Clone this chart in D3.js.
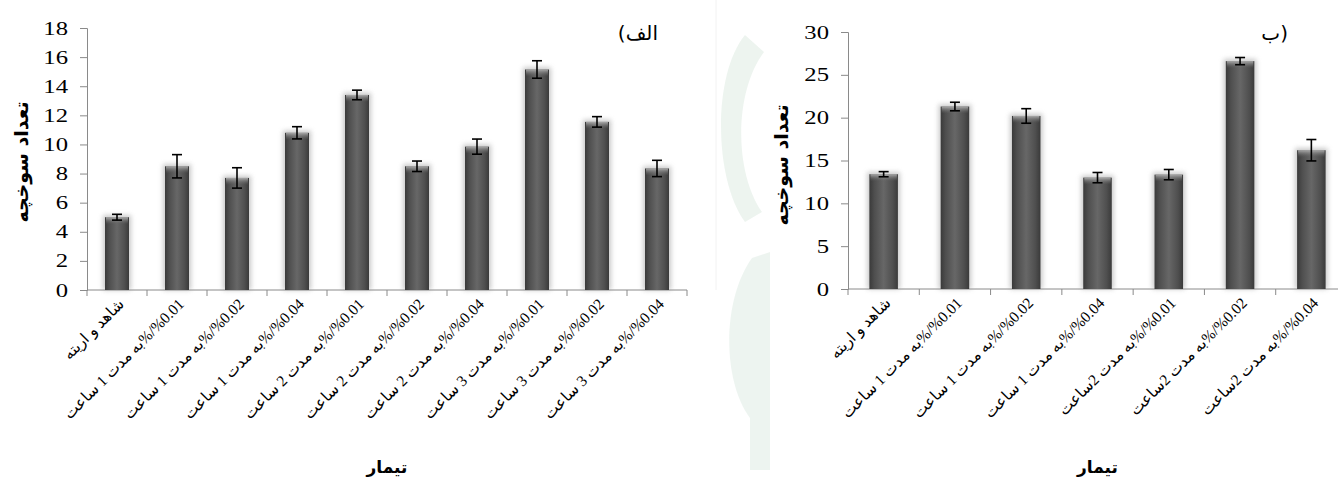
<!DOCTYPE html>
<html>
<head>
<meta charset="utf-8">
<script src="https://cdn.jsdelivr.net/npm/d3@7"></script>
<style>
body { margin: 0; background: #fff; }
svg { display: block; }
</style>
</head>
<body>
<svg width="1338" height="479"></svg>
<script>
// Data
let leftCats = [
    'شاهد و اریته',
    '%0.01/%به مدت 1 ساعت', '%0.02/%به مدت 1 ساعت', '%0.04/%به مدت 1 ساعت',
    '%0.01/%به مدت 2 ساعت', '%0.02/%به مدت 2 ساعت', '%0.04/%به مدت 2 ساعت',
    '%0.01/%به مدت 3 ساعت', '%0.02/%به مدت 3 ساعت', '%0.04/%به مدت 3 ساعت'
]
let leftValues = [5.0, 8.5, 7.7, 10.8, 13.4, 8.5, 9.85, 15.15, 11.55, 8.35]
let leftErrors = [0.2, 0.8, 0.7, 0.42, 0.33, 0.36, 0.52, 0.6, 0.36, 0.56]
let leftTicks = [0, 2, 4, 6, 8, 10, 12, 14, 16, 18]

let rightCats = [
    'شاهد و اریته',
    '%0.01/%به مدت 1 ساعت', '%0.02/%به مدت 1 ساعت', '%0.04/%به مدت 1 ساعت',
    '%0.01/%به مدت 2ساعت', '%0.02/%به مدت 2ساعت', '%0.04/%به مدت 2ساعت'
]
let rightValues = [13.4, 21.3, 20.2, 13.0, 13.35, 26.6, 16.2]
let rightErrors = [0.3, 0.5, 0.85, 0.6, 0.6, 0.42, 1.25]
let rightTicks = [0, 5, 10, 15, 20, 25, 30]

let yTitle = 'تعداد سوخچه'
let xTitle = 'تیمار'

let svg = d3.select('svg')
let defs = svg.append('defs')

// bar look: dark cylinder with soft glow
let grad = defs.append('linearGradient').attr('id', 'barGrad')
    .attr('x1', 0).attr('x2', 1).attr('y1', 0).attr('y2', 0)
grad.append('stop').attr('offset', '0%').attr('stop-color', '#3a3a3a')
grad.append('stop').attr('offset', '18%').attr('stop-color', '#4f4f4f')
grad.append('stop').attr('offset', '50%').attr('stop-color', '#676767')
grad.append('stop').attr('offset', '82%').attr('stop-color', '#4f4f4f')
grad.append('stop').attr('offset', '100%').attr('stop-color', '#3a3a3a')

let cap = defs.append('linearGradient').attr('id', 'capGrad')
    .attr('x1', 0).attr('x2', 0).attr('y1', 0).attr('y2', 1)
cap.append('stop').attr('offset', '0%').attr('stop-color', '#b5b5b5').attr('stop-opacity', 0.9)
cap.append('stop').attr('offset', '100%').attr('stop-color', '#6a6a6a').attr('stop-opacity', 0)

defs.append('filter').attr('id', 'glow')
    .attr('x', '-50%').attr('y', '-10%').attr('width', '200%').attr('height', '120%')
    .append('feGaussianBlur').attr('stdDeviation', 2.5)

// faint watermark in the middle
let wm = svg.append('g').attr('fill', '#e6f0e9').attr('opacity', 0.7)
wm.append('path').attr('d', 'M745,35 C712,75 714,180 745,222 L762,212 C734,172 734,92 764,52 Z')
wm.append('path').attr('d', 'M752,258 C722,300 722,380 750,418 L750,470 L770,470 L770,252 Z')
svg.append('line').attr('x1', 716).attr('x2', 716).attr('y1', 0).attr('y2', 290)
    .attr('stroke', '#f2f2f2')

function drawChart(cfg) {
    let x = d3.scaleBand().domain(cfg.cats).range(cfg.xRange).padding(0)
    let y = d3.scaleLinear().domain([0, cfg.yMax]).range(cfg.yRange)
    let data = cfg.cats.map((c, i) => ({ cat: c, v: cfg.values[i], e: cfg.errors[i] }))
    let bw = x.bandwidth() * 0.4
    let g = svg.append('g')

    // Y axis (numbers are a bit wide in the original, so stretch them)
    let yAxis = g.append('g')
        .attr('transform', `translate(${cfg.xRange[0]},0)`)
        .call(d3.axisLeft(y).tickValues(cfg.ticks).tickSize(7).tickPadding(12))
    yAxis.select('.domain').attr('stroke', '#8a8a8a')
    yAxis.selectAll('.tick line').attr('stroke', '#8a8a8a')
    yAxis.selectAll('.tick text')
        .attr('x', -19 / 1.3)
        .attr('transform', 'scale(1.3,1)')
        .attr('font-family', 'Liberation Serif, serif')
        .attr('font-size', 19).attr('fill', '#000')

    // X axis (ticks at category boundaries)
    let base = y(0)
    g.append('line')
        .attr('x1', cfg.xRange[0]).attr('x2', cfg.xRange[1])
        .attr('y1', base).attr('y2', base)
        .attr('stroke', '#8a8a8a')
    let bounds = cfg.cats.map(c => x(c)).concat([x(cfg.cats[cfg.cats.length - 1]) + x.bandwidth()])
    g.selectAll('.xtick').data(bounds).join('line')
        .attr('x1', d => d).attr('x2', d => d)
        .attr('y1', base).attr('y2', base + 6)
        .attr('stroke', '#8a8a8a')

    // bars
    let bars = g.selectAll('.bar').data(data).join('g')
    bars.append('rect')
        .attr('x', d => x(d.cat) + x.bandwidth() / 2 - bw / 2 - 2)
        .attr('y', d => y(d.v) - 2)
        .attr('width', bw + 4)
        .attr('height', d => base - y(d.v) + 2)
        .attr('fill', '#9a9a9a').attr('opacity', 0.55)
        .attr('filter', 'url(#glow)')
    bars.append('rect')
        .attr('x', d => x(d.cat) + x.bandwidth() / 2 - bw / 2)
        .attr('y', d => y(d.v))
        .attr('width', bw)
        .attr('height', d => base - y(d.v))
        .attr('fill', 'url(#barGrad)')
    bars.append('rect')
        .attr('x', d => x(d.cat) + x.bandwidth() / 2 - bw / 2 + 1)
        .attr('y', d => y(d.v))
        .attr('width', bw - 2)
        .attr('height', 7)
        .attr('fill', 'url(#capGrad)')

    // error bars
    let eb = g.selectAll('.err').data(data).join('g')
        .attr('stroke', '#000').attr('stroke-width', 1.6)
    eb.append('line')
        .attr('x1', d => x(d.cat) + x.bandwidth() / 2).attr('x2', d => x(d.cat) + x.bandwidth() / 2)
        .attr('y1', d => y(d.v + d.e)).attr('y2', d => y(d.v - d.e))
    eb.append('line')
        .attr('x1', d => x(d.cat) + x.bandwidth() / 2 - 5).attr('x2', d => x(d.cat) + x.bandwidth() / 2 + 5)
        .attr('y1', d => y(d.v + d.e)).attr('y2', d => y(d.v + d.e))
    eb.append('line')
        .attr('x1', d => x(d.cat) + x.bandwidth() / 2 - 5).attr('x2', d => x(d.cat) + x.bandwidth() / 2 + 5)
        .attr('y1', d => y(d.v - d.e)).attr('y2', d => y(d.v - d.e))

    // category labels, rotated, right-to-left, ending just right of the bar centre
    g.selectAll('.xlab').data(cfg.cats).join('text')
        .attr('transform', d => `translate(${x(d) + x.bandwidth() / 2 + 8},${base + 15}) rotate(-45)`)
        .attr('direction', 'rtl')
        .attr('text-anchor', 'start')
        .attr('font-family', 'Liberation Serif, DejaVu Sans, serif')
        .attr('font-size', 15.5)
        .text(d => d)

    // axis titles
    g.append('text')
        .attr('transform', `translate(${cfg.yTitleX},${cfg.yTitleY}) rotate(-90)`)
        .attr('text-anchor', 'middle')
        .attr('font-family', 'DejaVu Sans, sans-serif')
        .attr('font-weight', 'bold').attr('font-size', 19)
        .text(yTitle)
    g.append('text')
        .attr('x', (cfg.xRange[0] + cfg.xRange[1]) / 2).attr('y', 473)
        .attr('text-anchor', 'middle')
        .attr('font-family', 'DejaVu Sans, sans-serif')
        .attr('font-weight', 'bold').attr('font-size', 17)
        .text(xTitle)

    // panel letter
    g.append('text')
        .attr('x', cfg.labelX).attr('y', 40)
        .attr('text-anchor', 'end')
        .attr('font-family', 'DejaVu Sans, sans-serif')
        .attr('font-size', 20)
        .text(cfg.label)
}

drawChart({
    cats: leftCats, values: leftValues, errors: leftErrors, ticks: leftTicks,
    yMax: 18, xRange: [87, 687], yRange: [290, 28],
    yTitleX: 28, yTitleY: 162, label: '(الف', labelX: 658
})

drawChart({
    cats: rightCats, values: rightValues, errors: rightErrors, ticks: rightTicks,
    yMax: 30, xRange: [848, 1347], yRange: [289, 32],
    yTitleX: 788, yTitleY: 165, label: 'ب)', labelX: 1288
})
</script>
</body>
</html>
